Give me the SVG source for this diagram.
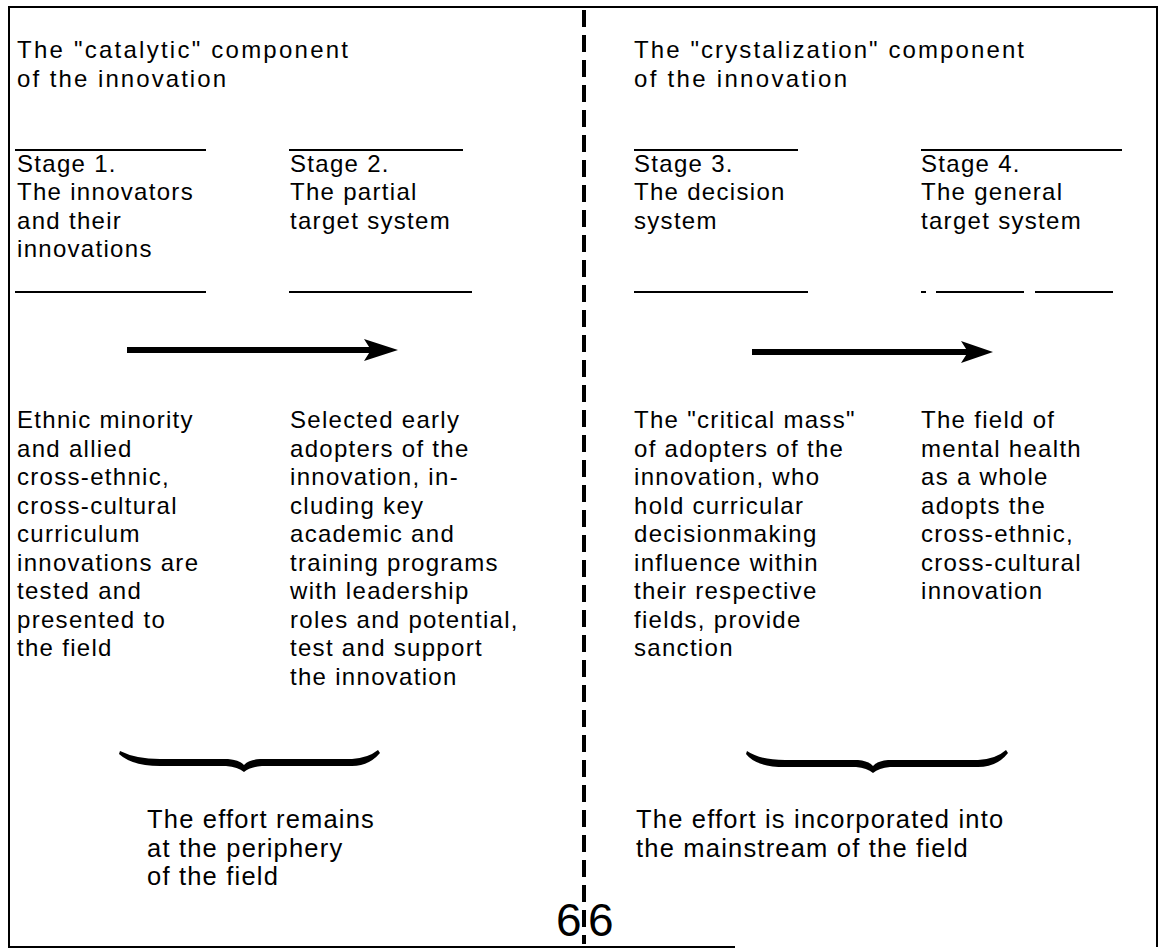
<svg xmlns="http://www.w3.org/2000/svg" width="1160" height="949" viewBox="0 0 1160 949">
<style>
  .t { font-family: "Liberation Sans", Arial, sans-serif; font-size: 24px; fill: #000; letter-spacing: 1.3px; }
  .h { font-family: "Liberation Sans", Arial, sans-serif; font-size: 24px; fill: #000; }
  .b { font-family: "Liberation Sans", Arial, sans-serif; font-size: 25.5px; fill: #000; letter-spacing: 1.2px; }
  .rule { stroke: #000; stroke-width: 2; fill: none; }
  .frame { stroke: #000; stroke-width: 2; fill: none; }
  .divider { stroke: #000; stroke-width: 4; stroke-dasharray: 17 8; fill: none; }
  .shaft { stroke: #000; stroke-width: 6; fill: none; }
  .ink { fill: #000; stroke: none; }
  .pg { font-family: "Liberation Sans", Arial, sans-serif; font-size: 46px; fill: #000; letter-spacing: 6.4px; }
</style>
<rect width="1160" height="949" fill="#fff"/>
<g id="frame">
  <path class="frame" d="M735,947 L9,947 L9,7 L1157,7 L1157,947"/>
  <line class="divider" x1="584" y1="10" x2="584" y2="944"/>
</g>
<g id="catalytic-header">
  <text class="h" x="17" y="58" textLength="331" lengthAdjust="spacing">The "catalytic" component</text>
  <text class="h" x="17" y="87" textLength="209" lengthAdjust="spacing">of the innovation</text>
</g>
<g id="crystalization-header">
  <text class="h" x="634" y="58" textLength="390" lengthAdjust="spacing">The "crystalization" component</text>
  <text class="h" x="634" y="87" textLength="213" lengthAdjust="spacing">of the innovation</text>
</g>
<g id="stage1">
  <line class="rule" x1="15" y1="150" x2="206" y2="150"/>
  <text class="t" x="17" y="172">Stage 1.</text>
  <text class="t" x="17" y="200">The innovators</text>
  <text class="t" x="17" y="229">and their</text>
  <text class="t" x="17" y="257">innovations</text>
  <line class="rule" x1="15" y1="292" x2="206" y2="292"/>
</g>
<g id="stage2">
  <line class="rule" x1="289" y1="150" x2="463" y2="150"/>
  <text class="t" x="290" y="172">Stage 2.</text>
  <text class="t" x="290" y="200">The partial</text>
  <text class="t" x="290" y="229">target system</text>
  <line class="rule" x1="289" y1="292" x2="472" y2="292"/>
</g>
<g id="stage3">
  <line class="rule" x1="634" y1="150" x2="798" y2="150"/>
  <text class="t" x="634" y="172">Stage 3.</text>
  <text class="t" x="634" y="200">The decision</text>
  <text class="t" x="634" y="229">system</text>
  <line class="rule" x1="634" y1="292" x2="808" y2="292"/>
</g>
<g id="stage4">
  <line class="rule" x1="921" y1="150" x2="1122" y2="150"/>
  <text class="t" x="921" y="172">Stage 4.</text>
  <text class="t" x="921" y="200">The general</text>
  <text class="t" x="921" y="229">target system</text>
  <path class="rule" d="M921,292 H926 M936,292 H1024 M1035,292 H1113"/>
</g>
<g id="stage1-description">
  <text class="t" x="17" y="428">Ethnic minority</text>
  <text class="t" x="17" y="456.5">and allied</text>
  <text class="t" x="17" y="485">cross-ethnic,</text>
  <text class="t" x="17" y="513.5">cross-cultural</text>
  <text class="t" x="17" y="542">curriculum</text>
  <text class="t" x="17" y="570.5">innovations are</text>
  <text class="t" x="17" y="599">tested and</text>
  <text class="t" x="17" y="627.5">presented to</text>
  <text class="t" x="17" y="656">the field</text>
</g>
<g id="stage2-description">
  <text class="t" x="290" y="428">Selected early</text>
  <text class="t" x="290" y="456.5">adopters of the</text>
  <text class="t" x="290" y="485">innovation, in-</text>
  <text class="t" x="290" y="513.5">cluding key</text>
  <text class="t" x="290" y="542">academic and</text>
  <text class="t" x="290" y="570.5">training programs</text>
  <text class="t" x="290" y="599">with leadership</text>
  <text class="t" x="290" y="627.5">roles and potential,</text>
  <text class="t" x="290" y="656">test and support</text>
  <text class="t" x="290" y="684.5">the innovation</text>
</g>
<g id="stage3-description">
  <text class="t" x="634" y="428">The "critical mass"</text>
  <text class="t" x="634" y="456.5">of adopters of the</text>
  <text class="t" x="634" y="485">innovation, who</text>
  <text class="t" x="634" y="513.5">hold curricular</text>
  <text class="t" x="634" y="542">decisionmaking</text>
  <text class="t" x="634" y="570.5">influence within</text>
  <text class="t" x="634" y="599">their respective</text>
  <text class="t" x="634" y="627.5">fields, provide</text>
  <text class="t" x="634" y="656">sanction</text>
</g>
<g id="stage4-description">
  <text class="t" x="921" y="428">The field of</text>
  <text class="t" x="921" y="456.5">mental health</text>
  <text class="t" x="921" y="485">as a whole</text>
  <text class="t" x="921" y="513.5">adopts the</text>
  <text class="t" x="921" y="542">cross-ethnic,</text>
  <text class="t" x="921" y="570.5">cross-cultural</text>
  <text class="t" x="921" y="599">innovation</text>
</g>
<g id="connectors">
  <line class="shaft" x1="127" y1="350" x2="374" y2="350"/>
  <path class="ink" d="M398,350 L364,339 L371,350 L364,361 Z"/>
  <line class="shaft" x1="752" y1="352" x2="970" y2="352"/>
  <path class="ink" d="M993,352 L961,341 L968,352 L961,363 Z"/>
  <path class="ink" d="M120,751 Q136,759 160,759 L228,759 Q240,760 244,765 Q248,760 260,759 L352,759 Q368,758 378,750 L380,753 Q369,766 352,766 L262,766 Q250,767 244,772 Q238,767 226,766 L160,766 Q132,766 119,754 Z"/>
  <path class="ink" d="M747,751 Q760,760 785,760 L858,760 Q869,761 873,766 Q877,761 888,760 L978,760 Q996,759 1006,750 L1008,753 Q997,767 978,767 L890,767 Q879,768 873,773 Q867,768 856,767 L785,767 Q756,767 746,754 Z"/>
</g>
<g id="periphery-note">
  <text class="b" x="147" y="828">The effort remains</text>
  <text class="b" x="147" y="857">at the periphery</text>
  <text class="b" x="147" y="885">of the field</text>
</g>
<g id="mainstream-note">
  <text class="b" x="636" y="828">The effort is incorporated into</text>
  <text class="b" x="636" y="857">the mainstream of the field</text>
</g>
<g id="page-number">
  <text class="pg" x="556" y="936">66</text>
</g>
</svg>
